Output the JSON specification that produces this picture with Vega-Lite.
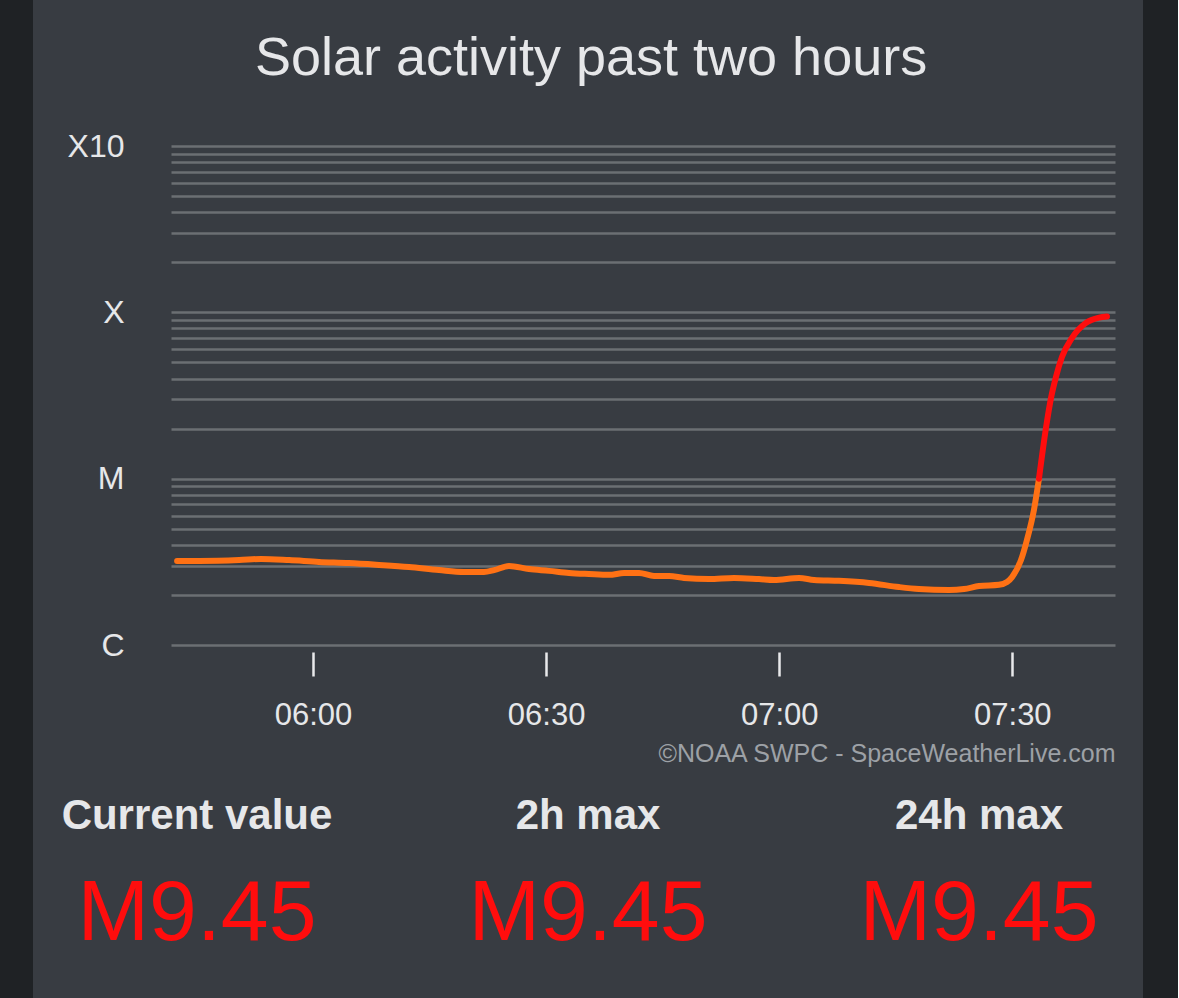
{
  "$schema": "https://vega.github.io/schema/vega-lite/v6.json",
  "background": "#383c42",
  "padding": 0,
  "config": {"view": {"stroke": null}, "font": "Liberation Sans"},
  "spacing": 28,
  "center": true,
  "hconcat": [
    {
      "width": 33, "height": 1142,
      "view": {"fill": "#1f2225", "stroke": null},
      "data": {"values": []},
      "mark": "point"
    },
    {
      "spacing": 7,
      "vconcat": [
        {
          "width": 944,
          "height": 499,
          "title": {"text": ["", "Solar activity past two hours"], "lineHeight": 32, "fontSize": 54, "font": "Liberation Sans", "fontWeight": "normal", "color": "#e6e7e9", "anchor": "middle", "frame": "bounds", "baseline": "alphabetic", "offset": 1},
          "data": {"values": [
            {"time": "2024-05-14T05:42:30", "flux": 3.20e-6, "level": "below M"},
            {"time": "2024-05-14T05:45:20", "flux": 3.20e-6, "level": "below M"},
            {"time": "2024-05-14T05:50:29", "flux": 3.24e-6, "level": "below M"},
            {"time": "2024-05-14T05:53:19", "flux": 3.29e-6, "level": "below M"},
            {"time": "2024-05-14T05:56:55", "flux": 3.24e-6, "level": "below M"},
            {"time": "2024-05-14T06:00:46", "flux": 3.16e-6, "level": "below M"},
            {"time": "2024-05-14T06:04:38", "flux": 3.11e-6, "level": "below M"},
            {"time": "2024-05-14T06:08:30", "flux": 3.03e-6, "level": "below M"},
            {"time": "2024-05-14T06:12:21", "flux": 2.94e-6, "level": "below M"},
            {"time": "2024-05-14T06:16:13", "flux": 2.82e-6, "level": "below M"},
            {"time": "2024-05-14T06:19:26", "flux": 2.75e-6, "level": "below M"},
            {"time": "2024-05-14T06:22:00", "flux": 2.75e-6, "level": "below M"},
            {"time": "2024-05-14T06:23:18", "flux": 2.82e-6, "level": "below M"},
            {"time": "2024-05-14T06:25:13", "flux": 2.99e-6, "level": "below M"},
            {"time": "2024-05-14T06:27:48", "flux": 2.86e-6, "level": "below M"},
            {"time": "2024-05-14T06:30:22", "flux": 2.79e-6, "level": "below M"},
            {"time": "2024-05-14T06:32:57", "flux": 2.71e-6, "level": "below M"},
            {"time": "2024-05-14T06:35:31", "flux": 2.67e-6, "level": "below M"},
            {"time": "2024-05-14T06:38:06", "flux": 2.64e-6, "level": "below M"},
            {"time": "2024-05-14T06:40:02", "flux": 2.71e-6, "level": "below M"},
            {"time": "2024-05-14T06:41:58", "flux": 2.71e-6, "level": "below M"},
            {"time": "2024-05-14T06:43:53", "flux": 2.60e-6, "level": "below M"},
            {"time": "2024-05-14T06:45:49", "flux": 2.60e-6, "level": "below M"},
            {"time": "2024-05-14T06:47:45", "flux": 2.53e-6, "level": "below M"},
            {"time": "2024-05-14T06:50:58", "flux": 2.49e-6, "level": "below M"},
            {"time": "2024-05-14T06:54:11", "flux": 2.53e-6, "level": "below M"},
            {"time": "2024-05-14T06:57:24", "flux": 2.49e-6, "level": "below M"},
            {"time": "2024-05-14T06:59:20", "flux": 2.46e-6, "level": "below M"},
            {"time": "2024-05-14T07:02:33", "flux": 2.53e-6, "level": "below M"},
            {"time": "2024-05-14T07:04:29", "flux": 2.46e-6, "level": "below M"},
            {"time": "2024-05-14T07:07:42", "flux": 2.43e-6, "level": "below M"},
            {"time": "2024-05-14T07:11:34", "flux": 2.36e-6, "level": "below M"},
            {"time": "2024-05-14T07:15:25", "flux": 2.23e-6, "level": "below M"},
            {"time": "2024-05-14T07:17:59", "flux": 2.17e-6, "level": "below M"},
            {"time": "2024-05-14T07:21:51", "flux": 2.14e-6, "level": "below M"},
            {"time": "2024-05-14T07:23:47", "flux": 2.17e-6, "level": "below M"},
            {"time": "2024-05-14T07:25:43", "flux": 2.26e-6, "level": "below M"},
            {"time": "2024-05-14T07:28:17", "flux": 2.30e-6, "level": "below M"},
            {"time": "2024-05-14T07:29:19", "flux": 2.39e-6, "level": "below M"},
            {"time": "2024-05-14T07:29:58", "flux": 2.56e-6, "level": "below M"},
            {"time": "2024-05-14T07:31:07", "flux": 3.24e-6, "level": "below M"},
            {"time": "2024-05-14T07:31:53", "flux": 4.28e-6, "level": "below M"},
            {"time": "2024-05-14T07:32:47", "flux": 6.48e-6, "level": "below M"},
            {"time": "2024-05-14T07:33:26", "flux": 1.0e-5, "level": "below M"},
            {"time": "2024-05-14T07:33:26", "flux": 1.0e-5, "level": "M and above"},
            {"time": "2024-05-14T07:34:20", "flux": 2.02e-5, "level": "M and above"},
            {"time": "2024-05-14T07:34:59", "flux": 3.06e-5, "level": "M and above"},
            {"time": "2024-05-14T07:35:37", "flux": 4.09e-5, "level": "M and above"},
            {"time": "2024-05-14T07:36:24", "flux": 5.40e-5, "level": "M and above"},
            {"time": "2024-05-14T07:37:41", "flux": 7.02e-5, "level": "M and above"},
            {"time": "2024-05-14T07:39:29", "flux": 8.64e-5, "level": "M and above"},
            {"time": "2024-05-14T07:41:10", "flux": 9.30e-5, "level": "M and above"},
            {"time": "2024-05-14T07:42:11", "flux": 9.45e-5, "level": "M and above"}
          ]},
          "mark": {"type": "line", "strokeWidth": 6, "interpolate": "monotone", "strokeCap": "round", "strokeJoin": "round"},
          "encoding": {
            "x": {
              "field": "time", "type": "temporal",
              "scale": {"domain": [
                {"year": 2024, "month": 5, "date": 14, "hours": 5, "minutes": 41, "seconds": 43},
                {"year": 2024, "month": 5, "date": 14, "hours": 7, "minutes": 43, "seconds": 13}
              ]},
              "axis": {
                "values": [
                  {"year": 2024, "month": 5, "date": 14, "hours": 6, "minutes": 0},
                  {"year": 2024, "month": 5, "date": 14, "hours": 6, "minutes": 30},
                  {"year": 2024, "month": 5, "date": 14, "hours": 7, "minutes": 0},
                  {"year": 2024, "month": 5, "date": 14, "hours": 7, "minutes": 30}
                ],
                "format": "%H:%M",
                "grid": false, "domain": false,
                "offset": 7,
                "tickSize": 24, "tickWidth": 2.5, "tickColor": "#e8e9eb",
                "labelFontSize": 31, "labelColor": "#e6e7e9", "labelPadding": 24,
                "labelFlush": false, "labelOverlap": false,
                "title": "©NOAA SWPC - SpaceWeatherLive.com",
                "titleFontSize": 25, "titleFontWeight": "normal", "titleColor": "#9da1a6",
                "titleAnchor": "end", "titlePadding": 11
              }
            },
            "y": {
              "field": "flux", "type": "quantitative",
              "scale": {"type": "log", "domain": [1e-6, 1e-3], "nice": false},
              "axis": {
                "values": [1e-6, 2e-6, 3e-6, 4e-6, 5e-6, 6e-6, 7e-6, 8e-6, 9e-6, 1e-5, 2e-5, 3e-5, 4e-5, 5e-5, 6e-5, 7e-5, 8e-5, 9e-5, 1e-4, 2e-4, 3e-4, 4e-4, 5e-4, 6e-4, 7e-4, 8e-4, 9e-4, 1e-3],
                "labelExpr": "abs(log(datum.value)/LN10 + 6) < 0.01 ? 'C' : abs(log(datum.value)/LN10 + 5) < 0.01 ? 'M' : abs(log(datum.value)/LN10 + 4) < 0.01 ? 'X' : abs(log(datum.value)/LN10 + 3) < 0.01 ? 'X10' : ''",
                "grid": true, "gridColor": "#6b6f73", "gridWidth": 2.5, "gridOpacity": 1,
                "ticks": false, "tickSize": 0, "domain": false,
                "labelFontSize": 32, "labelColor": "#e6e7e9", "labelPadding": 47,
                "labelOverlap": false, "labelBound": false, "labelFlush": false,
                "title": null
              }
            },
            "color": {"field": "level", "type": "nominal", "scale": {"domain": ["below M", "M and above"], "range": ["#ff7114", "#ff0d0d"]}, "legend": null}
          }
        },
        {
          "width": 834,
          "height": 223,
          "data": {"values": [
            {"col": "Current value", "kind": "label", "text": "Current value"},
            {"col": "2h max", "kind": "label", "text": "2h max"},
            {"col": "24h max", "kind": "label", "text": "24h max"},
            {"col": "Current value", "kind": "value", "text": "M9.45"},
            {"col": "2h max", "kind": "value", "text": "M9.45"},
            {"col": "24h max", "kind": "value", "text": "M9.45"}
          ]},
          "encoding": {
            "x": {"field": "col", "type": "nominal", "sort": null, "scale": {"type": "point", "padding": 0.0665}, "axis": null},
            "y": {"field": "kind", "type": "nominal", "sort": null, "scale": {"type": "point", "padding": 0.5045, "domain": ["label", "value"]}, "axis": null},
            "text": {"field": "text"}
          },
          "layer": [
            {"transform": [{"filter": "datum.kind === 'label'"}], "mark": {"type": "text", "fontSize": 42, "fontWeight": "bold", "color": "#e6e7e9", "align": "center", "baseline": "alphabetic"}},
            {"transform": [{"filter": "datum.kind === 'value'"}], "mark": {"type": "text", "fontSize": 86, "color": "#ff0d0d", "align": "center", "baseline": "alphabetic"}}
          ]
        }
      ]
    },
    {
      "width": 35, "height": 1142,
      "view": {"fill": "#1f2225", "stroke": null},
      "data": {"values": []},
      "mark": "point"
    }
  ]
}
